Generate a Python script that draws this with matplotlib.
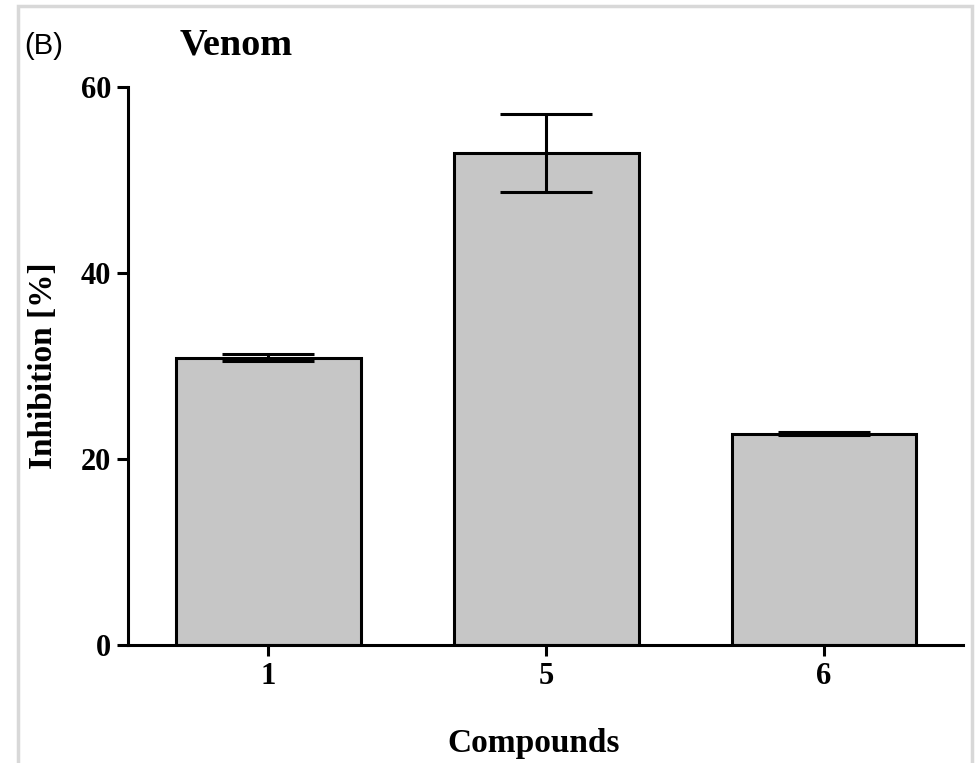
import matplotlib
matplotlib.use("Agg")
import matplotlib.pyplot as plt
from matplotlib.patches import Rectangle
import numpy as np

# values
compounds = ["1", "5", "6"]
inhibition = [30.9, 52.9, 22.7]
errors = [0.4, 4.2, 0.15]

serif = {"family": "Liberation Serif", "weight": "bold"}

fig = plt.figure(figsize=(9.77, 7.63), dpi=100)
ax = fig.add_axes([0.131, 0.1547, 0.8547, 0.7313])

x = np.arange(len(compounds))
ax.bar(x, inhibition, width=0.665, color="#c6c6c6", edgecolor="black", linewidth=2.2, zorder=2)
ax.errorbar(x, inhibition, yerr=errors, fmt="none", ecolor="black",
            elinewidth=2.2, capsize=33, capthick=2.2, zorder=3)

ax.set_xlim(-0.505, 2.5)
ax.set_ylim(0, 60)
ax.set_yticks([0, 20, 40, 60])
ax.set_xticks(x)
ax.set_xticklabels(compounds)
for s in ["top", "right"]:
    ax.spines[s].set_visible(False)
for s in ["left", "bottom"]:
    ax.spines[s].set_linewidth(2.2)
ax.tick_params(axis="both", direction="out", length=8, width=2.2, pad=4)
for lab in ax.get_xticklabels() + ax.get_yticklabels():
    lab.set_fontfamily("Liberation Serif")
    lab.set_fontweight("bold")
    lab.set_fontsize(22)

ax.set_ylabel("Inhibition [%]", fontsize=24, **serif)
ax.set_xlabel("Compounds", fontsize=24, **serif)
ax.yaxis.set_label_coords(-0.083, 0.5)
ax.xaxis.set_label_coords(0.486, -0.148)

fig.text(0.025, 0.94, "(B)", fontsize=21, family="Liberation Sans", va="center", ha="left")
fig.text(0.184, 0.941, "Venom", fontsize=27.5, va="center", ha="left", **serif)

# light frame of the original screenshot
fig.patches.append(Rectangle((18 / 977, -0.05), (972 - 18) / 977, 1.05 - 6 / 763,
                             transform=fig.transFigure, fill=False,
                             edgecolor="#d8d8d8", linewidth=2.5))

fig.savefig("out.png", dpi=100)
